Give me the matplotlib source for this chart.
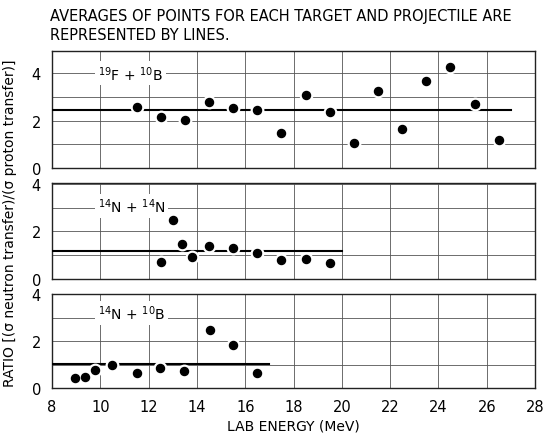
import matplotlib
matplotlib.use("Agg")
import matplotlib.pyplot as plt
import numpy as np

# ---- data ----
fb_energy = [11.5, 12.5, 13.5, 14.5, 15.5, 16.5, 17.5, 18.5, 19.5, 20.5, 21.5, 22.5, 23.5, 24.5, 25.5, 26.5]
fb_ratio = [2.56, 2.14, 2.02, 2.78, 2.54, 2.45, 1.46, 3.08, 2.38, 1.05, 3.26, 1.66, 3.68, 4.26, 2.69, 1.17]
fb_avg = 2.45
fb_avg_range = [8, 27]

nn_energy = [12.5, 13.0, 13.4, 13.8, 14.5, 15.5, 16.5, 17.5, 18.5, 19.5]
nn_ratio = [0.71, 2.50, 1.47, 0.90, 1.37, 1.30, 1.07, 0.79, 0.82, 0.65]
nn_avg = 1.18
nn_avg_range = [8, 20]

nb_energy = [8.95, 9.37, 9.8, 10.47, 11.5, 12.47, 13.48, 14.54, 15.5, 16.5]
nb_ratio = [0.41, 0.45, 0.75, 0.99, 0.65, 0.86, 0.71, 2.45, 1.83, 0.62]
nb_avg = 1.02
nb_avg_range = [8, 17]

labels = [r"$^{19}$F + $^{10}$B", r"$^{14}$N + $^{14}$N", r"$^{14}$N + $^{10}$B"]
xticks = [8, 10, 12, 14, 16, 18, 20, 22, 24, 26, 28]
yticks = [0, 2, 4]

plt.rcParams['font.family'] = ['DejaVu Sans']
plt.rcParams['mathtext.default'] = 'regular'

fig = plt.figure(figsize=(5.44, 4.35), dpi=100)
W, H = 544.0, 435.0
left = 52 / W
width = (535 - 52) / W
panels = [
    (169, 52, 4.94, fb_energy, fb_ratio, fb_avg, fb_avg_range, labels[0], 4.0),
    (279.5, 184, 4.06, nn_energy, nn_ratio, nn_avg, nn_avg_range, labels[1], 3.1),
    (389, 295, 4.0, nb_energy, nb_ratio, nb_avg, nb_avg_range, labels[2], 3.2),
]
axes = []
for i, (bot, top, ymax, xe, yr, avg, rng, lab, ly) in enumerate(panels):
    ax = fig.add_axes([left, 1 - bot / H, width, (bot - top) / H])
    ax.set_xlim(8, 28)
    ax.set_ylim(0, ymax)
    ax.set_xticks(np.arange(8, 29, 2))
    ax.set_yticks(np.arange(0, 5, 1))
    ax.grid(True, color='#555555', lw=0.6)
    ax.set_axisbelow(True)
    ax.tick_params(length=0, labelsize=10.5, pad=8)
    ax.set_yticklabels([str(t) if t in yticks else '' for t in range(0, 5)])
    if i < 2:
        ax.set_xticklabels([])
    else:
        ax.set_xticklabels([str(t) for t in xticks])
    for s in ax.spines.values():
        s.set_linewidth(1.0)
        s.set_color('#222222')
    ax.plot(rng, [avg, avg], color='black', lw=1.5, zorder=3)
    ax.plot(xe, yr, 'o', color='white', ms=10, mec='none', zorder=4)
    ax.plot(xe, yr, 'o', color='black', ms=5.8, zorder=5)
    ax.text(9.9, ly, lab, fontsize=10, ha='left', va='center', zorder=6,
            bbox=dict(facecolor='white', edgecolor='none', pad=2))
    axes.append(ax)

axes[2].set_xlabel("LAB ENERGY (MeV)", fontsize=10, labelpad=3)
fig.text(0.018, (1 - 395 / H + 1 - 52 / H) / 2,
         "RATIO [(σ neutron transfer)/(σ proton transfer)]",
         rotation=90, fontsize=10, ha='center', va='center')
fig.text(50 / W, 1 - 16 / H, "AVERAGES OF POINTS FOR EACH TARGET AND PROJECTILE ARE",
         fontsize=10.5, ha='left', va='center')
fig.text(50 / W, 1 - 36 / H, "REPRESENTED BY LINES.",
         fontsize=10.5, ha='left', va='center')

fig.savefig("out.png", dpi=100)
